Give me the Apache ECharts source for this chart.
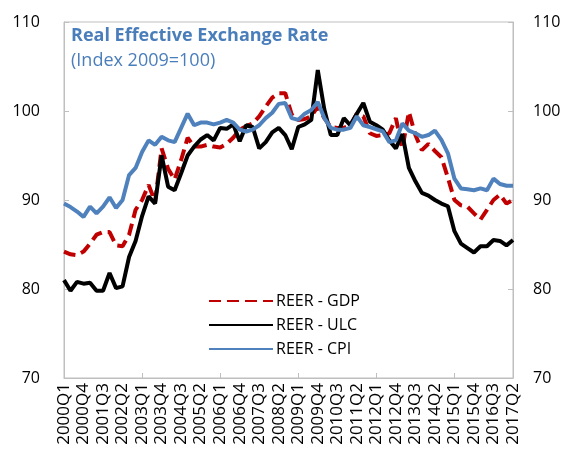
<!DOCTYPE html>
<html>
<head>
<meta charset="utf-8">
<script src="https://cdn.jsdelivr.net/npm/echarts@6/dist/echarts.min.js"></script>
<style>
html,body{margin:0;padding:0;background:#fff;}
#c{width:567px;height:457px;}
</style>
</head>
<body>
<div id="c"></div>
<script>
// Quarters 2000Q1 .. 2017Q2
var categories = [];
for (var y = 2000; y <= 2017; y++) {
  for (var q = 1; q <= 4; q++) {
    if (y === 2017 && q > 2) break;
    categories.push(y + 'Q' + q);
  }
}

var reerGDP = [84.2, 83.9, 83.8, 84.2, 85.1, 86.1, 86.4, 86.4, 84.9, 84.8,
  86.1, 88.9, 90.0, 91.7, 89.8, 95.8, 93.5, 92.3, 94.5, 97.0,
  96.0, 96.0, 96.2, 96.0, 95.9, 96.3, 97.0, 97.9, 98.3, 98.6,
  99.4, 100.5, 101.5, 102.0, 102.0, 99.6, 99.0, 99.1, 99.4, 100.5,
  99.2, 98.2, 98.1, 98.1, 98.4, 99.7, 99.4, 97.5, 97.2, 97.3,
  97.5, 99.2, 95.8, 99.9, 97.3, 95.6, 96.3, 95.5, 94.8, 92.5,
  90.0, 89.4, 89.25, 88.5, 87.8, 88.9, 90.0, 90.6, 89.6, 90.0];

var reerULC = [81.0, 79.8, 80.8, 80.6, 80.7, 79.8, 79.8, 81.8, 80.1, 80.3,
  83.6, 85.4, 88.2, 90.4, 89.6, 95.0, 91.5, 91.1, 93.0, 95.0,
  96.0, 96.8, 97.3, 96.7, 98.1, 98.0, 98.5, 96.6, 98.4, 98.2,
  95.8, 96.5, 97.6, 98.1, 97.3, 95.7, 98.2, 98.5, 99.0, 104.6,
  100.2, 97.3, 97.3, 99.2, 98.4, 99.7, 100.9, 98.8, 98.4, 97.9,
  96.7, 95.8, 97.4, 93.6, 92.1, 90.8, 90.5, 90.0, 89.6, 89.3,
  86.5, 85.1, 84.6, 84.1, 84.8, 84.8, 85.5, 85.4, 84.9, 85.5];

var reerCPI = [89.6, 89.2, 88.7, 88.1, 89.25, 88.5, 89.25, 90.3, 89.1, 90.0,
  92.8, 93.6, 95.4, 96.7, 96.2, 97.1, 96.7, 96.5, 98.1, 99.7,
  98.4, 98.7, 98.7, 98.5, 98.7, 99.0, 98.7, 97.9, 97.7, 97.9,
  98.4, 99.2, 99.8, 100.8, 100.9, 99.2, 99.0, 99.7, 100.1, 101.0,
  99.2, 98.1, 97.9, 97.9, 98.1, 99.4, 98.4, 98.2, 97.95, 97.7,
  96.5, 96.7, 98.6, 97.8, 97.5, 97.1, 97.3, 97.8, 96.75, 95.25,
  92.4, 91.3, 91.2, 91.1, 91.3, 91.1, 92.4, 91.8, 91.6, 91.6];

var yTicks = [70, 80, 90, 100, 110];
var seriesNames = ['REER - GDP', 'REER - ULC', 'REER - CPI'];

var FONT = '"Open Sans", "Noto Sans", sans-serif';
var axisGray = '#bfbfbf';

var chart = echarts.init(document.getElementById('c'), null, {renderer: 'canvas'});

function yAxisCfg(pos, margin) {
  return {
    type: 'value',
    position: pos,
    min: yTicks[0],
    max: yTicks[yTicks.length - 1],
    interval: 10,
    axisLine: {show: true, lineStyle: {color: axisGray, width: 1}},
    axisTick: {show: true, inside: true, length: 5, lineStyle: {color: axisGray}},
    splitLine: {show: false},
    axisLabel: {color: '#000', fontSize: 16, fontFamily: FONT, margin: margin}
  };
}

chart.setOption({
  animation: false,
  backgroundColor: '#fff',
  title: {
    text: 'Real Effective Exchange Rate',
    subtext: '(Index 2009=100)',
    left: 66,
    top: 22,
    itemGap: 7,
    textStyle: {color: '#4a7ebb', fontSize: 18, fontWeight: 'bold', fontFamily: FONT},
    subtextStyle: {color: '#4a7ebb', fontSize: 18, fontWeight: 'normal', fontFamily: FONT}
  },
  legend: {
    data: seriesNames,
    orient: 'vertical',
    left: 203,
    top: 288,
    itemWidth: 64,
    itemHeight: 14,
    itemGap: 8,
    itemStyle: {opacity: 0},
    textStyle: {color: '#000', fontSize: 16, fontFamily: FONT, padding: [0, 0, 0, -2]}
  },
  grid: {
    left: 64, right: 54, top: 22, bottom: 79,
    show: true, borderColor: axisGray, borderWidth: 1,
    containLabel: false
  },
  xAxis: {
    type: 'category',
    data: categories,
    boundaryGap: false,
    axisLine: {show: true, lineStyle: {color: axisGray}},
    axisTick: {show: true, inside: true, length: 5, interval: 11, lineStyle: {color: axisGray}},
    axisLabel: {interval: 2, rotate: 90, color: '#000', fontSize: 17, fontFamily: FONT, margin: 5},
    splitLine: {show: false}
  },
  yAxis: [yAxisCfg('left', 24), yAxisCfg('right', 20)],
  series: [
    {
      name: seriesNames[0], type: 'line', data: reerGDP, symbol: 'none',
      lineStyle: {color: '#c00000', width: 4, type: [12, 6]},
      itemStyle: {color: '#c00000'}
    },
    {
      name: seriesNames[1], type: 'line', data: reerULC, symbol: 'none',
      lineStyle: {color: '#000000', width: 4},
      itemStyle: {color: '#000000'}
    },
    {
      name: seriesNames[2], type: 'line', data: reerCPI, symbol: 'none',
      lineStyle: {color: '#4f81bd', width: 4},
      itemStyle: {color: '#4f81bd'}
    }
  ]
});
</script>
</body>
</html>
